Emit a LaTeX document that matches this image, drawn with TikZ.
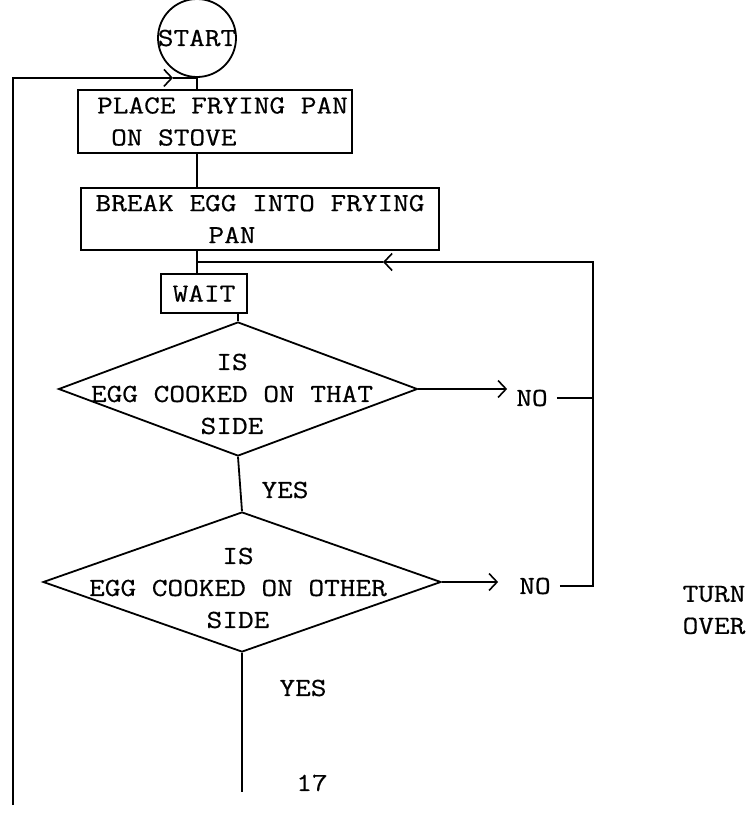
\documentclass[tikz,border=0pt]{standalone}
\usepackage{fontspec}
\newfontfamily\typer[FakeStretch=1.17, FakeBold=0.6]{Latin Modern Mono}
\usetikzlibrary{positioning, arrows.meta, shapes.geometric, calc}

\tikzset{
  flow/.style={line width=1.8pt},
  arr/.style={flow, -{Straight Barb[length=8pt,width=17pt,line width=1.6pt]}},
  stepbox/.style={draw, flow, rectangle, inner sep=0pt, align=left},
  askbox/.style={draw, flow, diamond, inner sep=0pt},
  lbl/.style={inner sep=0pt, align=center}
}

\begin{document}
\begin{tikzpicture}[x=1pt, y=-1pt, font=\typer\fontsize{26pt}{32pt}\selectfont]
  \useasboundingbox (0,0) rectangle (750,817);

  \node[draw, flow, circle, minimum size=78pt, inner sep=-6pt] (start) at (197,38) {START};
  \node[stepbox, minimum width=274pt, minimum height=63pt] (pan) at (215,121.5)
    {\hspace*{15pt}PLACE FRYING PAN\\\hspace*{29pt}ON STOVE};
  \node[stepbox, minimum width=358pt, minimum height=62pt] (egg) at (260,219)
    {BREAK EGG INTO FRYING\\\hspace*{113pt}PAN};
  \node[stepbox, align=center, minimum width=86pt, minimum height=39pt] (wait) at (204,293.5) {WAIT};

  \node[askbox, minimum width=359pt, minimum height=134pt] (q1) at (238,389) {};
  \node[lbl] (q1txt) at (232,394) {IS\\EGG COOKED ON THAT\\SIDE};
  \node[askbox, minimum width=398pt, minimum height=140pt] (q2) at (242,582) {};
  \node[lbl] (q2txt) at (238,588) {IS\\EGG COOKED ON OTHER\\SIDE};

  \node[lbl] (yes1) at (285,490) {YES};
  \node[lbl] (yes2) at (303,688) {YES};
  \node[lbl, inner xsep=9pt] (no1) at (532,398) {NO};
  \node[lbl, inner xsep=9pt] (no2) at (535,586) {NO};
  \node[lbl, align=left] (turn) at (714,610) {TURN\\OVER};
  \node[lbl] (page) at (312,783) {17};

  \coordinate (loopbot) at (13,805);
  \coordinate (loopin) at ($(start.south)+(-24,0)$);
  \coordinate (pageend) at (238,792);
  \coordinate (backtop) at (593,262);
  \coordinate (backmid) at (383,262);

  \draw[arr] (loopbot) |- (loopin);
  \draw[flow] (loopin) -- (start.south);
  \draw[flow] (start.south) -- (start.south |- pan.north);
  \draw[flow] (start.south |- pan.south) -- (start.south |- egg.north);
  \draw[flow] (start.south |- egg.south) -- (start.south |- wait.north);
  \draw[flow] (wait.south -| q1.north) -- (q1.north);
  \draw[flow] (q1.south) -- (q2.north);
  \draw[flow] (q2.south) -- (q2.south |- pageend);

  \draw[arr] (q1.east) -- (q1.east -| no1.west);
  \draw[arr, shorten >=12pt] (q2.east) -- (q2.east -| no2.west);
  \draw[flow] (no1.east) -- (no1.east -| backtop);
  \draw[arr] (no2.east) -| (backtop) -- (backmid);
  \draw[flow] (backmid) -- (backmid -| start.south);
\end{tikzpicture}
\end{document}
